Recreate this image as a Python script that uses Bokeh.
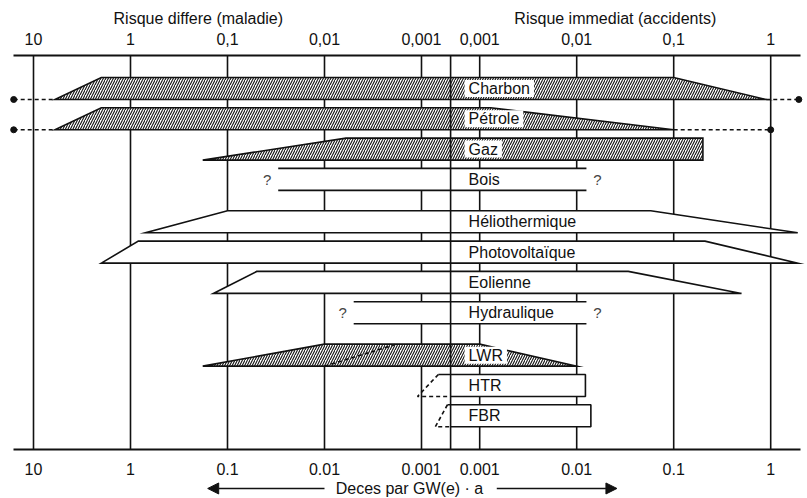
import numpy as np
from bokeh.plotting import figure
from bokeh.models import (ColumnDataSource, Range1d, LinearAxis, FixedTicker,
                          Label, Arrow, NormalHead)
from bokeh.embed import file_html
from bokeh.resources import INLINE
from bokeh.core.properties import value

FONT = "Liberation Sans"

# ---------------- data : deaths per GW(e)·a ----------------
sources = ["Charbon", "Pétrole", "Gaz", "Bois", "Héliothermique", "Photovoltaïque",
           "Eolienne", "Hydraulique", "LWR", "HTR", "FBR"]
row_pos = [0, 1, 2, 3, 4.4, 5.4, 6.4, 7.4, 8.8, 9.8, 10.8]
kind = ["band", "band", "band", "lines", "band", "band", "band", "lines", "band", "box", "box"]
hatched = [True, True, True, False, False, False, False, False, True, False, False]
# delayed risk (disease): value at the upper and at the lower edge of each band
delayed_upper = [2, 2, 0.006, 0.03, 0.1, 0.83, 0.05, 0.005, 0.01, 0.00067, 0.00054]
delayed_lower = [6, 6, 0.18, 0.03, 0.7, 2, 0.14, 0.005, 0.18, 0.0011, 0.00072]
# immediate risk (accidents)
immediate_upper = [0.1, 0.0013, 0.2, 0.0126, 0.058, 0.21, 0.034, 0.0126, 0.001, 0.0123, 0.014]
immediate_lower = [0.9, 0.1, 0.2, 0.0126, 1.9, 1.9, 0.5, 0.0126, 0.01, 0.0123, 0.014]
# dashed extensions (coal, oil)
ext_sources = ["Charbon", "Pétrole"]
ext_delayed = [16, 16]
ext_immediate = [1.95, 1]
# LWR inner dashed limit (upper, lower)
lwr_dashed_delayed = [0.0018, 0.01]

delayed_ticks = [10, 1, 0.1, 0.01, 0.001]
immediate_ticks = [0.001, 0.01, 0.1, 1]
top_labels_delayed = ["10", "1", "0,1", "0,01", "0,001"]
top_labels_immediate = ["0,001", "0,01", "0,1", "1"]
bottom_labels_delayed = ["10", "1", "0.1", "0.01", "0.001"]
bottom_labels_immediate = ["0.001", "0.01", "0.1", "1"]

# ---------------- mirrored log scale ----------------
GAP = 6.6
CENTER = GAP / 2


def ud(v):
    return float(-np.log10(v))


def ui(v):
    return float(GAP + np.log10(v))


H = 0.363
LW = 1.6
INK = "#111111"
Y_TOP_AXIS = -1.089
Y_BOT_AXIS = 11.914

p = figure(width=807, height=498, output_backend="svg", toolbar_location=None,
           x_range=Range1d(-1.3402, 6.9794), y_range=Range1d(13.531, -2.904),
           min_border=0, outline_line_color=None,
           x_axis_location=None, y_axis_location=None)
p.background_fill_color = "white"
p.border_fill_color = "white"
p.xgrid.visible = False
p.ygrid.visible = False

tick_pos = [round(ud(v), 6) for v in delayed_ticks] + [round(ui(v), 6) for v in immediate_ticks]
ticker = FixedTicker(ticks=tick_pos, minor_ticks=[])
top_over = {t: l for t, l in zip(tick_pos, top_labels_delayed + top_labels_immediate)}
bot_over = {t: l for t, l in zip(tick_pos, bottom_labels_delayed + bottom_labels_immediate)}

axis_bounds = (-1.206, 6.907)
for side, over, loc, standoff in (("above", top_over, Y_TOP_AXIS, 4),
                                  ("below", bot_over, Y_BOT_AXIS, 7)):
    ax = LinearAxis(ticker=ticker, major_label_overrides=over, fixed_location=loc,
                    bounds=axis_bounds)
    ax.axis_line_color = INK
    ax.axis_line_width = 1.8
    ax.major_tick_line_color = None
    ax.minor_tick_line_color = None
    ax.major_label_text_font = FONT
    ax.major_label_text_font_size = "16px"
    ax.major_label_text_color = INK
    ax.major_label_standoff = standoff
    p.add_layout(ax, side)

# grid lines between the two axes (tick positions)
p.segment(x0=tick_pos, x1=tick_pos, y0=[Y_TOP_AXIS] * len(tick_pos),
          y1=[Y_BOT_AXIS] * len(tick_pos), line_color=INK, line_width=LW)

# ---------------- bands ----------------
band = {"h": dict(xs=[], ys=[]), "p": dict(xs=[], ys=[])}
lines_q = dict(left=[], right=[], top=[], bottom=[])
seg = dict(x0=[], y0=[], x1=[], y1=[])
box_fill = dict(xs=[], ys=[])
box_line = dict(xs=[], ys=[])
dash = dict(xs=[], ys=[])
qm = dict(x=[], y=[], off=[], t=[])

for s, y, k, hz, du, dl, iu, il in zip(sources, row_pos, kind, hatched, delayed_upper,
                                       delayed_lower, immediate_upper, immediate_lower):
    yt, yb = y - H, y + H
    if k == "band":
        key = "h" if hz else "p"
        band[key]["xs"].append([ud(du), ui(iu), ui(il), ud(dl)])
        band[key]["ys"].append([yt, yt, yb, yb])
    elif k == "lines":
        lines_q["left"].append(ud(du)); lines_q["right"].append(ui(iu))
        lines_q["top"].append(yt); lines_q["bottom"].append(yb)
        for yy in (yt, yb):
            seg["x0"].append(ud(du)); seg["x1"].append(ui(iu))
            seg["y0"].append(yy); seg["y1"].append(yy)
        qm["x"] += [ud(du), ui(iu)]; qm["y"] += [y, y]; qm["off"] += [-11, 11]
        qm["t"] += ["?", "?"]
    else:
        box_fill["xs"].append([ud(du), ui(iu), ui(il), CENTER])
        box_fill["ys"].append([yt, yt, yb, yb])
        box_line["xs"].append([ud(du), ui(iu), ui(il), CENTER])
        box_line["ys"].append([yt, yt, yb, yb])
        dash["xs"].append([ud(du), ud(dl), CENTER])
        dash["ys"].append([yt, yb, yb])

p.quad(source=ColumnDataSource(lines_q), left="left", right="right", top="top", bottom="bottom",
       fill_color="white", line_color=None)
p.segment(source=ColumnDataSource(seg), x0="x0", y0="y0", x1="x1", y1="y1",
          line_color=INK, line_width=LW)
p.patches(source=ColumnDataSource(band["p"]), xs="xs", ys="ys", fill_color="white",
          line_color=INK, line_width=LW, line_join="miter")
p.patches(source=ColumnDataSource(band["h"]), xs="xs", ys="ys", fill_color="white",
          hatch_pattern="/", hatch_color=INK, hatch_scale=5, hatch_weight=1.1,
          line_color=INK, line_width=LW, line_join="miter")
p.patches(source=ColumnDataSource(box_fill), xs="xs", ys="ys", fill_color="white", line_color=None)
p.multi_line(source=ColumnDataSource(box_line), xs="xs", ys="ys", line_color=INK, line_width=LW)

# LWR inner dashed limit
i_lwr = sources.index("LWR")
dash["xs"].append([ud(lwr_dashed_delayed[1]), ud(lwr_dashed_delayed[0])])
dash["ys"].append([row_pos[i_lwr] + H, row_pos[i_lwr] - H])

# coal / oil dashed extensions
dots = dict(x=[], y=[])
for s, ed, ei in zip(ext_sources, ext_delayed, ext_immediate):
    i = sources.index(s)
    yb = row_pos[i] + H
    dash["xs"].append([ud(ed), ud(delayed_lower[i])]); dash["ys"].append([yb, yb])
    dash["xs"].append([ui(immediate_lower[i]), ui(ei)]); dash["ys"].append([yb, yb])
    dots["x"] += [ud(ed), ui(ei)]; dots["y"] += [yb, yb]
p.multi_line(source=ColumnDataSource(dash), xs="xs", ys="ys", line_color=INK,
             line_width=LW, line_dash="4 3")
p.scatter(source=ColumnDataSource(dots), x="x", y="y", size=6, fill_color=INK, line_color=INK)

# centre line
p.segment(x0=[CENTER], x1=[CENTER], y0=[Y_TOP_AXIS], y1=[Y_BOT_AXIS], line_color=INK, line_width=LW)

# labels
p.text(x=[CENTER] * len(sources), y=row_pos, text=sources, x_offset=14,
       text_font=value(FONT), text_font_size="16px", text_color=INK,
       text_baseline="middle", text_align="left",
       background_fill_color="white", padding=dict(left=4, right=4, top=0, bottom=0))
p.text(source=ColumnDataSource(qm), x="x", y="y", x_offset="off", text="t",
       text_font=value(FONT), text_font_size="15px", text_color="#444444",
       text_baseline="middle", text_align="center")

# titles
Y_TITLE = -2.31
p.add_layout(Label(x=ud(0.2), y=Y_TITLE, text="Risque differe (maladie)", text_font=FONT,
                   text_font_size="16px", text_color=INK, text_align="center",
                   text_baseline="middle"))
p.add_layout(Label(x=ui(0.025), y=Y_TITLE, text="Risque immediat (accidents)", text_font=FONT,
                   text_font_size="16px", text_color=INK, text_align="center",
                   text_baseline="middle"))
# bottom caption with arrows
YC = 13.2
p.add_layout(Label(x=2.876, y=YC, text="Deces par GW(e) · a", text_font=FONT,
                   text_font_size="16px", text_color=INK, text_align="center",
                   text_baseline="middle"))
p.add_layout(Arrow(x_start=ud(0.01), y_start=YC, x_end=ud(0.16), y_end=YC,
                   line_color=INK, line_width=LW,
                   end=NormalHead(size=11, fill_color=INK, line_color=INK)))
p.add_layout(Arrow(x_start=ui(0.0015), y_start=YC, x_end=ui(0.026), y_end=YC,
                   line_color=INK, line_width=LW,
                   end=NormalHead(size=11, fill_color=INK, line_color=INK)))

open("out.html", "w").write(file_html(p, INLINE))
